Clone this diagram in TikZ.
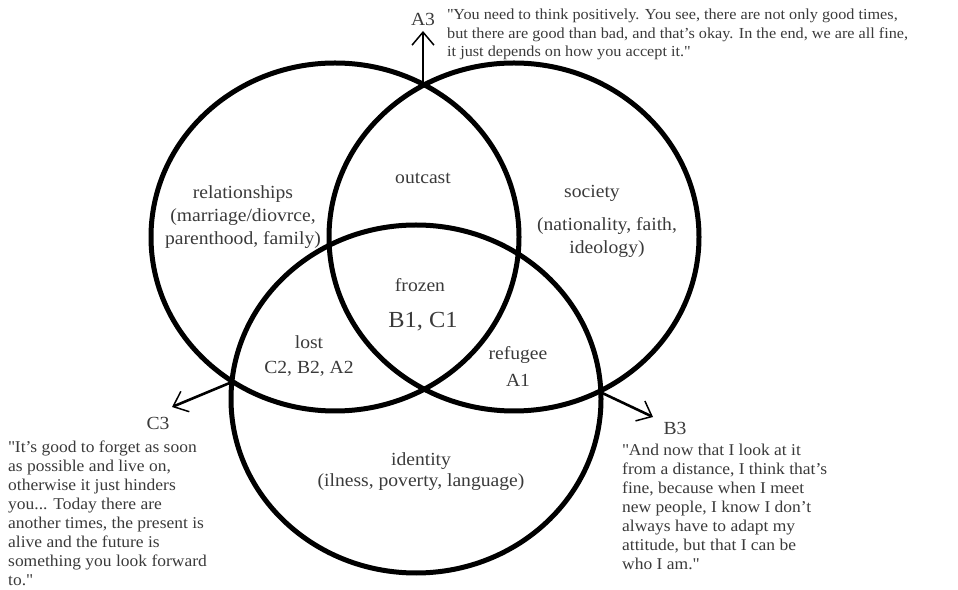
\documentclass[tikz,border=0pt]{standalone}
\usepackage{fontspec}
\setmainfont{Liberation Serif}[FakeStretch=1.06]
\usetikzlibrary{arrows.meta}
\definecolor{ink}{HTML}{3A3A3A}
\newcommand{\qt}[1]{\textquotedbl#1\textquotedbl}
\tikzset{
  ring/.style={draw=black,line width=5pt},
  pointer/.style={line width=2.6pt,-{Straight Barb[length=13pt,width=22pt,line width=1.5pt]}},
  zone/.style={text=ink,align=center,inner sep=0pt,font=\fontsize{18.5}{23}\selectfont},
  tag/.style={text=ink,inner sep=0pt,font=\fontsize{18.5}{20}\selectfont},
  quote/.style={text=ink,align=left,inner sep=0pt,anchor=north west,font=\fontsize{16.5}{19}\selectfont}
}
\begin{document}
\begin{tikzpicture}[x=1pt,y=1pt]
  \useasboundingbox (0,0) rectangle (958,589);
  % the three sets
  \draw[ring] (335,352) ellipse [x radius=184,y radius=174];
  \draw[ring] (514,352) ellipse [x radius=185,y radius=174];
  \draw[ring] (416,190) ellipse [x radius=185,y radius=174];
  % crossings and arrow ends
  \coordinate (top) at (423,505);
  \coordinate (left) at (232,207);
  \coordinate (right) at (598,198);
  \coordinate (topend) at (423,558);
  \coordinate (leftend) at (172,182);
  \coordinate (rightend) at (653,172);
  \draw[pointer] (top) -- (topend);
  \draw[pointer] (left) -- (leftend);
  \draw[pointer] (right) -- (rightend);
  % set and overlap labels
  \node[zone] (rel) at (243,372) {relationships\\(marriage/diovrce,\\parenthood, family)};
  \node[zone] (soc) at (592,396) {society};
  \node[zone] (socx) at (607,352) {(nationality, faith,\\ideology)};
  \node[zone] (out) at (423,411) {outcast};
  \node[zone] (frz) at (420,304) {frozen};
  \node[zone,font=\fontsize{23}{27}\selectfont] (bc) at (423,267) {B1, C1};
  \node[zone,font=\fontsize{18.5}{25}\selectfont] (lost) at (309,233) {lost\\C2, B2, A2};
  \node[zone,font=\fontsize{18.5}{27}\selectfont] (ref) at (518,223) {refugee\\A1};
  \node[zone,font=\fontsize{18.5}{21}\selectfont] (idt) at (421,117) {identity\\(ilness, poverty, language)};
  % cases and quotes
  \node[tag] (A3) at (423,570) {A3};
  \node[tag] (C3) at (158,166) {C3};
  \node[tag] (B3) at (675,161) {B3};
  \node[quote,font=\fontsize{15.3}{18.5}\selectfont] (qa) at (447,580) {\qt{You need to think positively. You see, there are not only good times,\\but there are good than bad, and that's okay. In the end, we are all fine,\\it just depends on how you accept it.}};
  \node[quote] (qc) at (8,148) {\qt{It's good to forget as soon\\as possible and live on,\\otherwise it just hinders\\you... Today there are\\another times, the present is\\alive and the future is\\something you look forward\\to.}};
  \node[quote] (qb) at (622,145) {\qt{And now that I look at it\\from a distance, I think that's\\fine, because when I meet\\new people, I know I don't\\always have to adapt my\\attitude, but that I can be\\who I am.}};
\end{tikzpicture}
\end{document}
